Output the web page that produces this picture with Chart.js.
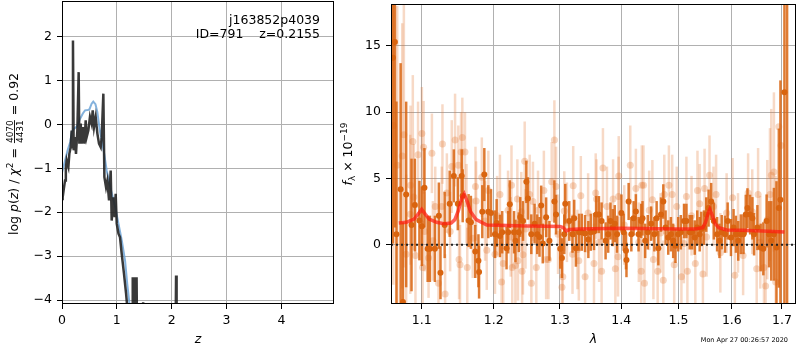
<!DOCTYPE html>
<html lang="en">
<head>
    <meta charset="UTF-8">
    <title>p(z) and spectrum</title>
    <script src="https://cdn.jsdelivr.net/npm/chart.js"></script>
    <style>
        body {
            margin: 0;
            background: white;
            width: 800px;
            height: 350px;
            position: relative;
            overflow: hidden;
        }
        canvas {
            position: absolute;
            top: 0;
        }
        #pzChart { left: 0; }
        #specChart { left: 340px; }
    </style>
</head>
<body>
    <canvas id="pzChart" width="340" height="350"></canvas>
    <canvas id="specChart" width="460" height="350"></canvas>

    <script>
        // ---- left panel: log p(z) ----
        const zTicks = [0, 1, 2, 3, 4];
        const logpTicks = [-4, -3, -2, -1, 0, 1, 2];

        // smooth (light blue) curve
        const smoothZ = [0.0, 0.04, 0.1, 0.15, 0.18, 0.22, 0.27, 0.33, 0.38, 0.42, 0.47, 0.5, 0.54, 0.57, 0.61, 0.645, 0.69, 0.73, 0.77, 0.815, 0.88, 0.97, 1.03, 1.09, 1.15, 1.19, 1.23, 1.26];
        const smoothLogP = [-1.1, -0.9, -0.6, -0.4, -0.17, -0.1, -0.05, 0.13, 0.25, 0.32, 0.33, 0.34, 0.47, 0.52, 0.46, 0.28, -0.14, -0.4, -0.67, -1.05, -1.43, -1.88, -2.26, -2.64, -3.1, -3.63, -4.08, -4.5];

        // noisy (dark) curve
        const rawZ = [0.0, 0.012, 0.035, 0.055, 0.07, 0.085, 0.1, 0.116, 0.134, 0.158, 0.176, 0.188, 0.2, 0.213, 0.237, 0.255, 0.28, 0.304, 0.316, 0.341, 0.359, 0.39, 0.408, 0.432, 0.45, 0.48, 0.51, 0.54, 0.56, 0.584, 0.614, 0.645, 0.675, 0.706, 0.724, 0.754, 0.773, 0.803, 0.827, 0.858, 0.888, 0.906, 0.937, 0.96, 0.979, 0.998, 1.03, 1.058, 1.089, 1.13, 1.168, 1.19, 1.22, 1.28, 1.29, 1.30, 1.325, 1.33, 1.345, 1.36, 1.37, 1.46, 1.48, 1.50, 2.07, 2.08, 2.09, 4.96];
        const rawLogP = [-1.7, -1.66, -1.45, -1.28, -1.0, -0.82, -0.9, -0.97, -0.67, -0.52, -0.14, -0.52, 1.91, -0.59, -0.29, -0.67, -0.14, 1.19, -0.44, 0.02, -0.44, -0.06, -0.44, 0.09, -0.29, -0.14, 0.17, 0.02, 0.32, -0.06, 0.17, -0.21, -0.44, -0.52, -0.29, 0.70, -1.2, -1.43, -1.28, -1.73, -1.05, -2.19, -1.66, -2.11, -1.58, -2.26, -2.49, -2.57, -2.95, -3.4, -3.85, -4.16, -4.6, -5, -3.48, -5, -5, -3.48, -4.5, -3.48, -5, -5, -4.05, -5, -5, -3.44, -5, -6];

        // ---- right panel: spectrum ----
        const lamTicks = [1.1, 1.2, 1.3, 1.4, 1.5, 1.6, 1.7];
        const fluxTicks = [0, 5, 10, 15];

        // strong (dark orange) points
        const darkLam = [1.0625, 1.0650, 1.0670, 1.0724, 1.0754, 1.0796, 1.0866, 1.0910, 1.0970, 1.1003, 1.1037, 1.1080, 1.1110, 1.1177, 1.1231, 1.1253, 1.1310, 1.1379, 1.1436, 1.1491, 1.1545, 1.1559, 1.1642, 1.1674, 1.1736, 1.1781, 1.1790, 1.1836, 1.1865, 1.1922, 1.1961, 1.2019, 1.2043, 1.2091, 1.2124, 1.2188, 1.2212, 1.2236, 1.2299, 1.2320, 1.2369, 1.2391, 1.2433, 1.2483, 1.2507, 1.2558, 1.2608, 1.2648, 1.2683, 1.2709, 1.2733, 1.2785, 1.2836, 1.2913, 1.2939, 1.3005, 1.3031, 1.3068, 1.3084, 1.3147, 1.3199, 1.3226, 1.3253, 1.3305, 1.3348, 1.3401, 1.3454, 1.3493, 1.3546, 1.3584, 1.3627, 1.3671, 1.3737, 1.3780, 1.3819, 1.3857, 1.3890, 1.3929, 1.4002, 1.4041, 1.4080, 1.4088, 1.4125, 1.4171, 1.4210, 1.4249, 1.4295, 1.4341, 1.4364, 1.4410, 1.4455, 1.4514, 1.4571, 1.4611, 1.4641, 1.4688, 1.4729, 1.4770, 1.4817, 1.4865, 1.4906, 1.4947, 1.4996, 1.5044, 1.5104, 1.5146, 1.5207, 1.5250, 1.5299, 1.5346, 1.5391, 1.5421, 1.5470, 1.5513, 1.5557, 1.5606, 1.5656, 1.5718, 1.5763, 1.5806, 1.5869, 1.5920, 1.5984, 1.6034, 1.6079, 1.6125, 1.6175, 1.6227, 1.6272, 1.6305, 1.6358, 1.6403, 1.6436, 1.6502, 1.6568, 1.6621, 1.6687, 1.6735, 1.6781, 1.6835, 1.6887, 1.6935, 1.6968, 1.7050, 1.7105];
        const darkFlux = [14.1, 15.3, 0.8, 4.2, -4.3, 3.8, 1.5, 3.0, 1.83, 1.4, 4.3, -0.3, -0.3, -0.3, 2.2, -2.1, 1.5, 3.1, 5.2, 3.1, 5.2, 3.7, 1.83, 1.7, -0.5, -1.2, -2.05, 2.5, 5.3, 2.5, 2.4, 0.8, 1.65, 0.67, 0.95, -0.25, 0.95, 3.07, 0.95, 0.3, 0.95, 2.1, 1.8, 4.75, 3.5, 0.8, 1.6, 0.8, 0.6, 2.97, 0.1, 2.08, 0.3, 3.27, 2.28, -0.3, -1.0, 0.8, 3.1, 1.8, 0.8, 2.0, -0.25, 0.95, 0.95, 0.85, 0.4, 0.95, 1.0, 2.28, 2.28, 1.8, 0.3, 0.8, 1.8, 1.3, 1.6, 0.8, 2.4, 0.95, -0.45, -1.14, 3.27, 0.8, 2.0, 2.52, 0.8, 1.8, 2.0, 0.3, 0.95, 1.6, 0.8, 2.0, -0.25, 2.28, 3.27, 1.3, 0.55, 0.8, 0.3, -0.07, 0.8, 0.95, 1.8, 1.8, 0.95, 0.95, 0.55, 1.3, 0.8, 1.2, 1.3, 2.28, 2.77, 3.27, 1.8, 0.8, 0.3, 0.95, 0.8, 1.8, 0.55, 1.3, 0.8, 0.3, 0.8, 0.8, 2.28, 2.77, 2.28, 2.0, 0.8, 1.3, -0.2, -0.3, 1.8, 0.8, 0.3, 0.8, -0.2, 2.77, 3.4, 11.5, 20];
        const darkErr = [14, 14, 10, 9.5, 6, 7, 5, 3.5, 3, 3, 3, 2.5, 2.5, 2.5, 2.5, 2, 2.5, 2.5, 2, 2, 2, 2, 2, 2, 2, 2, 2, 2, 2, 2, 1.8, 1.8, 1.8, 1.6, 1.6, 1.6, 1.6, 1.8, 1.6, 1.6, 1.5, 1.5, 1.5, 1.6, 1.6, 1.5, 1.5, 1.5, 1.5, 1.5, 1.5, 1.5, 1.5, 1.6, 1.5, 1.5, 1.5, 1.5, 1.5, 1.5, 1.4, 1.4, 1.4, 1.4, 1.4, 1.4, 1.4, 1.4, 1.4, 1.4, 1.4, 1.4, 1.4, 1.4, 1.4, 1.4, 1.4, 1.4, 1.4, 1.4, 1.4, 1.3, 1.4, 1.3, 1.3, 1.3, 1.3, 1.3, 1.3, 1.3, 1.3, 1.3, 1.3, 1.3, 1.3, 1.3, 1.3, 1.3, 1.3, 1.3, 1.3, 1.3, 1.3, 1.3, 1.3, 1.3, 1.3, 1.3, 1.3, 1.3, 1.3, 1.3, 1.3, 1.3, 1.4, 1.4, 1.4, 1.3, 1.3, 1.3, 1.4, 1.4, 1.4, 1.4, 1.4, 1.5, 1.5, 1.5, 1.5, 1.5, 1.5, 1.6, 1.6, 1.7, 1.8, 2, 2, 2.5, 3, 3.5, 5, 6, 9, 25, 25];

        // weak (pale) points
        const lightLam = [1.0630, 1.0680, 1.0745, 1.0766, 1.0796, 1.0850, 1.0853, 1.0883, 1.0896, 1.0918, 1.0952, 1.1003, 1.1013, 1.1026, 1.1039, 1.1092, 1.1137, 1.1150, 1.1182, 1.1226, 1.1270, 1.1280, 1.1316, 1.1340, 1.1385, 1.1407, 1.1453, 1.1498, 1.1508, 1.1522, 1.1536, 1.1554, 1.1591, 1.1613, 1.1623, 1.1700, 1.1739, 1.1748, 1.1829, 1.1876, 1.1900, 1.1923, 1.2019, 1.2050, 1.2091, 1.2115, 1.2139, 1.2210, 1.2250, 1.2261, 1.2272, 1.2319, 1.2348, 1.2357, 1.2407, 1.2419, 1.2432, 1.2458, 1.2470, 1.2533, 1.2559, 1.2583, 1.2634, 1.2660, 1.2750, 1.2785, 1.2820, 1.2871, 1.2913, 1.2939, 1.2970, 1.3032, 1.3045, 1.3068, 1.3110, 1.3199, 1.3210, 1.3278, 1.3300, 1.3332, 1.3401, 1.3450, 1.3546, 1.3574, 1.3587, 1.3630, 1.3671, 1.3693, 1.3760, 1.3862, 1.3900, 1.3945, 1.3954, 1.3957, 1.4050, 1.4153, 1.4249, 1.4300, 1.4341, 1.4352, 1.4381, 1.4398, 1.4480, 1.4536, 1.4554, 1.4629, 1.4680, 1.4729, 1.4746, 1.4829, 1.4888, 1.4924, 1.4970, 1.5055, 1.5100, 1.5146, 1.5164, 1.5240, 1.5310, 1.5350, 1.5391, 1.5451, 1.5482, 1.5520, 1.5575, 1.5650, 1.5699, 1.5780, 1.5900, 1.6015, 1.6059, 1.6120, 1.6220, 1.6318, 1.6400, 1.6488, 1.6516, 1.6560, 1.6634, 1.6667, 1.6700, 1.6755, 1.6781, 1.6835, 1.6870, 1.6935, 1.6980];
        const lightFlux = [9.0, 6.0, 6.7, 8.3, -0.7, 2.3, 4.5, 7.8, 3.6, -0.8, 6.8, 8.4, -1.7, 7.35, 1.0, -1.0, 6.9, 0.3, 2.9, -2.9, 2.9, 7.6, -3.7, 3.9, 1.0, 5.9, 7.9, 6.0, -1.1, -1.5, 7.0, 8.1, 7.0, 3.1, -1.7, 0.5, 4.4, 3.3, 5.1, 1.8, -0.4, 4.1, -0.7, 2.2, 3.8, -2.8, -1.4, 2.6, 0.6, 4.5, -1.7, -1.55, 3.45, -1.2, 2.5, -2.0, -0.75, 6.3, 1.2, 3.8, -2.9, 3.27, -1.7, 2.6, 4.1, -1.1, -1.1, 4.75, 7.9, 4.4, 0.8, -3.2, -2.4, 2.55, 1.7, -0.7, 4.45, -0.35, -1.2, 3.7, -2.4, 2.4, -1.4, 3.9, 3.45, 0.2, -2.0, 5.8, 2.9, 3.45, -1.8, -0.9, 3.65, 5.2, 1.5, 6.0, 4.25, 0.2, -2.0, 4.5, 4.5, -2.9, 2.6, 3.4, -1.1, -2.0, 0.9, -2.67, 3.8, 4.5, 3.8, -1.5, 2.9, -2.4, 0.1, 3.65, -2.0, 2.2, -1.4, 4.1, 3.1, -2.2, 4.25, 0.6, 5.25, 2.9, 3.8, -0.6, 2.4, 3.55, -2.3, 0.9, -0.8, 3.9, 2.5, -1.8, 3.8, 0.2, -1.7, -3.1, 1.9, 3.8, 5.25, 5.5, -2.8, 8.9, 7.5];
        const lightErr = [12, 12, 10, 10, 6, 6, 6, 5, 4, 4, 4, 3.5, 3.5, 3.5, 3, 3, 3, 3, 3, 3, 3, 3, 3, 3, 3, 3.5, 3.5, 3, 3, 3, 3, 3, 3, 3, 3, 3, 3, 3, 3, 3, 3, 3, 3, 3, 3, 3, 3, 3, 3, 3, 3, 3, 3, 3, 3, 3, 3, 3, 3, 3, 3, 3, 3, 3, 3, 3, 3, 3, 3, 3, 3, 3, 3, 3, 3, 3, 3, 3, 3, 3, 3, 3, 3, 3, 3, 3, 3, 3, 3, 3, 3, 3, 3, 3, 3, 3, 3, 3, 3, 3, 3, 3, 3, 3, 3, 3, 3, 3, 3, 3, 3, 3, 3, 3, 3, 3, 3, 3, 3, 3, 3, 3, 3, 3, 3, 3, 3, 3, 3, 3, 3, 3, 3, 3, 3.2, 3.2, 3.5, 3.5, 3.5, 4, 4.5, 5, 5, 6, 8];

        // best-fit model
        const modelLam = [1.07, 1.08, 1.09, 1.095, 1.10, 1.105, 1.11, 1.12, 1.13, 1.14, 1.145, 1.15, 1.155, 1.158, 1.162, 1.167, 1.175, 1.19, 1.22, 1.25, 1.28, 1.30, 1.305, 1.31, 1.315, 1.33, 1.40, 1.50, 1.53, 1.545, 1.55, 1.555, 1.558, 1.562, 1.568, 1.575, 1.59, 1.62, 1.66, 1.705];
        const modelFlux = [1.65, 1.7, 1.95, 2.3, 2.67, 2.3, 1.95, 1.7, 1.6, 1.65, 1.9, 2.6, 3.6, 3.85, 3.3, 2.5, 1.9, 1.5, 1.45, 1.43, 1.4, 1.38, 1.3, 1.05, 1.15, 1.2, 1.25, 1.2, 1.2, 1.3, 1.7, 2.4, 2.67, 2.3, 1.6, 1.3, 1.12, 1.1, 1.05, 0.97];

        const FONT = 'DejaVu Sans';
        Chart.defaults.font.family = FONT;
        Chart.defaults.color = '#000';

        const pts = (xs, ys) => xs.map((x, i) => ({ x: x, y: ys[i] }));
        const minus = v => String(v).replace('-', '\u2212');

        // vertical error bars, drawn just before each dataset's points
        const errorBars = {
            id: 'errorBars',
            beforeDatasetDraw(chart, args) {
                const ds = chart.data.datasets[args.index];
                if (!ds.errs) return;
                const { ctx, chartArea: a, scales: { x, y } } = chart;
                ctx.save();
                ctx.beginPath();
                ctx.rect(a.left, a.top, a.width, a.height);
                ctx.clip();
                ctx.strokeStyle = ds.barColor;
                ctx.lineWidth = ds.barWidth;
                ds.data.forEach((p, i) => {
                    const px = x.getPixelForValue(p.x);
                    ctx.beginPath();
                    ctx.moveTo(px, y.getPixelForValue(p.y - ds.errs[i]));
                    ctx.lineTo(px, y.getPixelForValue(p.y + ds.errs[i]));
                    ctx.stroke();
                });
                ctx.restore();
            }
        };

        // black box round the plot area
        const frame = {
            id: 'frame',
            afterDraw(chart) {
                const { ctx, chartArea: a } = chart;
                ctx.save();
                ctx.strokeStyle = '#000';
                ctx.lineWidth = 1;
                ctx.strokeRect(Math.round(a.left) + 0.5, Math.round(a.top) + 0.5, Math.round(a.width) - 1, Math.round(a.height) - 1);
                ctx.restore();
            }
        };

        // rotated label made of pieces (italic, sub/superscripts, a fraction)
        function drawRich(ctx, x, y, segs) {
            ctx.save();
            ctx.translate(x, y);
            ctx.rotate(-Math.PI / 2);
            ctx.fillStyle = '#000';
            ctx.textBaseline = 'alphabetic';
            const widths = segs.map(s => {
                ctx.font = s.font;
                if (s.frac) return Math.max(ctx.measureText(s.frac[0]).width, ctx.measureText(s.frac[1]).width) + 2;
                return ctx.measureText(s.t).width;
            });
            let cx = -widths.reduce((a, b) => a + b, 0) / 2;
            segs.forEach((s, i) => {
                ctx.font = s.font;
                if (s.frac) {
                    const w = widths[i];
                    ctx.textAlign = 'center';
                    ctx.fillText(s.frac[0], cx + w / 2, -5);
                    ctx.fillText(s.frac[1], cx + w / 2, 4.5);
                    ctx.fillRect(cx + 1, -4, w - 2, 0.9);
                    ctx.textAlign = 'left';
                } else {
                    ctx.textAlign = 'left';
                    ctx.fillText(s.t, cx, s.dy || 0);
                }
                cx += widths[i];
            });
            ctx.restore();
        }

        const F = '12.5px ' + FONT;
        const FI = 'italic 12.5px ' + FONT;
        const FS = '9px ' + FONT;

        const pzText = {
            id: 'pzText',
            afterDraw(chart) {
                const ctx = chart.ctx;
                ctx.save();
                ctx.fillStyle = '#000';
                ctx.font = F;
                ctx.textAlign = 'right';
                ctx.textBaseline = 'alphabetic';
                ctx.fillText('j163852p4039', 320, 24);
                ctx.fillText('ID=791    z=0.2155', 320, 38);
                ctx.restore();
                drawRich(ctx, 18, 154, [
                    { t: 'log ', font: F }, { t: 'p', font: FI }, { t: '(', font: F }, { t: 'z', font: FI },
                    { t: ') / ', font: F }, { t: '\u03c7', font: FI }, { t: '2', font: FS, dy: -5 },
                    { t: ' = ', font: F }, { frac: ['4070', '4431'], font: FS }, { t: ' = 0.92', font: F }
                ]);
            }
        };

        const specText = {
            id: 'specText',
            afterDraw(chart) {
                const ctx = chart.ctx;
                ctx.save();
                ctx.fillStyle = '#000';
                ctx.font = '6.5px ' + FONT;
                ctx.textAlign = 'right';
                ctx.fillText('Mon Apr 27 00:26:57 2020', 448, 342);
                ctx.restore();
                drawRich(ctx, 12, 154, [
                    { t: 'f', font: FI }, { t: '\u03bb', font: FS, dy: 3 },
                    { t: ' \u00d7 10', font: F }, { t: '\u221219', font: FS, dy: -5 }
                ]);
            }
        };

        const tickFont = { size: 12.5 };
        const gridStyle = { color: '#b0b0b0', lineWidth: 1, tickColor: '#000', tickLength: 5 };

        // keep the plot area where the reference has it: no label overhang padding
        const fitX = s => { s.height = 46; s.paddingLeft = 0; s.paddingRight = 0; };
        const fitY = w => s => { s.width = w; s.paddingTop = 0; s.paddingBottom = 0; };

        new Chart(document.getElementById('pzChart'), {
            type: 'scatter',
            data: {
                datasets: [
                    {
                        data: pts(rawZ, rawLogP), showLine: true, pointRadius: 0,
                        borderColor: 'rgba(35,35,35,0.9)', borderWidth: 2.5, order: 0, clip: 0
                    },
                    {
                        data: pts(smoothZ, smoothLogP), showLine: true, pointRadius: 0,
                        borderColor: 'rgba(110,165,215,0.85)', borderWidth: 2, order: 1, clip: 0
                    }
                ]
            },
            options: {
                responsive: false,
                animation: false,
                layout: { padding: { top: 1, right: 6, left: 0, bottom: 0 } },
                plugins: { legend: { display: false }, tooltip: { enabled: false } },
                scales: {
                    x: {
                        type: 'linear', min: 0, max: 4.96,
                        afterBuildTicks: s => { s.ticks = zTicks.map(v => ({ value: v })); },
                        afterFit: fitX,
                        ticks: { font: tickFont, padding: 4, callback: v => v },
                        grid: gridStyle,
                        border: { display: false },
                        title: { display: true, text: 'z', font: { size: 12.5, style: 'italic' }, padding: { top: 0, bottom: 3 } }
                    },
                    y: {
                        min: -4.09, max: 2.81,
                        afterBuildTicks: s => { s.ticks = logpTicks.map(v => ({ value: v })); },
                        afterFit: fitY(62),
                        ticks: { font: tickFont, padding: 5, callback: v => minus(v) },
                        grid: gridStyle,
                        border: { display: false }
                    }
                }
            },
            plugins: [frame, pzText]
        });

        new Chart(document.getElementById('specChart'), {
            type: 'scatter',
            data: {
                datasets: [
                    {
                        data: [{ x: 1.06, y: 0 }, { x: 1.729, y: 0 }], showLine: true, pointRadius: 0,
                        borderColor: '#222', borderWidth: 2, borderDash: [2, 3], order: 0, clip: 0
                    },
                    {
                        data: pts(modelLam, modelFlux), showLine: true, pointRadius: 0,
                        borderColor: 'rgba(255,25,15,0.7)', borderWidth: 3.5, order: 1, clip: 0
                    },
                    {
                        data: pts(darkLam, darkFlux), errs: darkErr,
                        barColor: 'rgba(217,100,15,0.85)', barWidth: 2.5,
                        pointRadius: 3, pointBorderWidth: 0, backgroundColor: 'rgb(217,100,15)',
                        order: 2, clip: 0
                    },
                    {
                        data: pts(lightLam, lightFlux), errs: lightErr,
                        barColor: 'rgba(225,120,50,0.28)', barWidth: 2.5,
                        pointRadius: 3.5, pointBorderWidth: 0, backgroundColor: 'rgba(225,120,50,0.3)',
                        order: 3, clip: 0
                    }
                ]
            },
            options: {
                responsive: false,
                animation: false,
                layout: { padding: { top: 1, right: 1, left: 0, bottom: 0 } },
                plugins: { legend: { display: false }, tooltip: { enabled: false } },
                scales: {
                    x: {
                        type: 'logarithmic', min: 1.06, max: 1.729,
                        afterBuildTicks: s => { s.ticks = lamTicks.map(v => ({ value: v })); },
                        afterFit: fitX,
                        ticks: { font: tickFont, padding: 4, autoSkip: false, maxRotation: 0, callback: v => Number(v).toFixed(1) },
                        grid: gridStyle,
                        border: { display: false },
                        title: { display: true, text: '\u03bb', font: { size: 12.5, style: 'italic' }, padding: { top: 0, bottom: 3 } }
                    },
                    y: {
                        min: -4.46, max: 18.16,
                        afterBuildTicks: s => { s.ticks = fluxTicks.map(v => ({ value: v })); },
                        afterFit: fitY(51),
                        ticks: { font: tickFont, padding: 5, callback: v => minus(v) },
                        grid: gridStyle,
                        border: { display: false }
                    }
                }
            },
            plugins: [errorBars, frame, specText]
        });
    </script>
</body>
</html>
